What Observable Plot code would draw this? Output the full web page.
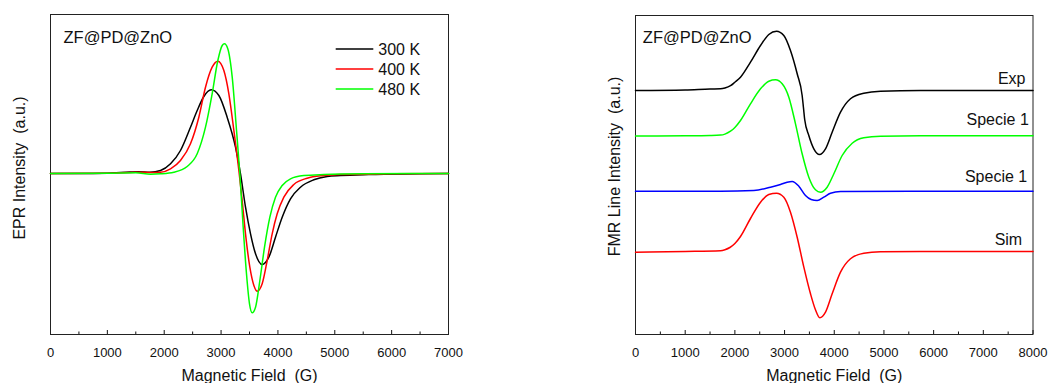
<!DOCTYPE html>
<html><head><meta charset="utf-8">
<script src="https://cdn.jsdelivr.net/npm/d3@7"></script>
<script src="https://cdn.jsdelivr.net/npm/@observablehq/plot@0.6"></script>
<style>
html,body{margin:0;padding:0;background:#fff;}
#wrap{position:relative;width:1048px;height:383px;overflow:hidden;font-family:"Liberation Sans",Arial,sans-serif;}
#left,#right{position:absolute;top:0;}
#left{left:0;} #right{left:524px;}
</style></head>
<body><div id="wrap"><div id="left"></div><div id="right"></div></div>
<script>
// ---------- Left panel: EPR spectra vs temperature ----------
const eprTemps = ["300 K", "400 K", "480 K"];
const eprColors = ["#000000", "#ff0000", "#00ff00"];
const field300 = [0,500,1000,1400,1550,1750,1935,2111,2286,2462,2580,2697,2826,2961,3107,3254,3342,3430,3518,3606,3723,3840,3957,4075,4221,4397,4631,4866,5100,5600,6500,7000];
const epr300   = [0,0,0.3,1.5,1.8,1.3,3,9.7,23,46.3,63,77,83.7,78,56.3,26.3,-0.3,-33.7,-60.3,-80.3,-91,-83.7,-63.7,-43.7,-25.3,-13.7,-6.3,-3,-2,-1,-0.3,0];
const field400 = [0,1000,1500,1750,1935,2111,2286,2462,2609,2726,2843,2943,3049,3137,3225,3313,3371,3430,3506,3577,3635,3723,3811,3899,3987,4104,4280,4514,4807,5100,6000,7000];
const epr400   = [0,0.3,1.3,1,1.3,4.7,13,29.7,56.3,86.3,106.3,112.3,103,79.7,43,3,-27,-60.3,-93.7,-112,-117.7,-110.3,-87,-60.3,-40.3,-23.7,-11,-4.7,-2,-1,-0.3,0];
const field480 = [0,1000,1500,1760,1935,2170,2404,2580,2726,2843,2943,3020,3060,3118,3196,3272,3330,3389,3447,3500,3547,3606,3682,3764,3858,3957,4075,4221,4455,4807,5500,7000];
const epr480   = [0,0.3,0.8,-0.7,-0.3,1.3,7,19.7,46.3,79.7,113,128,129.7,124.7,96.3,43,-0.3,-53.7,-100.3,-130.3,-139.3,-133.7,-107,-73.7,-43.7,-23.7,-12,-5.3,-2,-1,-0.3,0];
const eprXTicks = [0,1000,2000,3000,4000,5000,6000,7000];

// ---------- Right panel: FMR line fit (stacked traces) ----------
const fmrIds = ["exp", "sp1a", "sp1b", "sim"];
const fmrNames = ["Exp", "Specie 1", "Specie 1", "Sim"];
const fmrColors = ["#000000", "#00ff00", "#0000ff", "#ff0000"];
const fieldExp = [0,1000,1500,1711,1800,1912,2000,2113,2314,2516,2683,2838,2985,3119,3254,3354,3380,3405,3488,3589,3703,3824,3958,4126,4327,4595,4931,5736,7000,8000];
const fmrExp   = [244,244.5,245.5,245.7,246.5,248.8,252.3,257.3,272.3,289,300,303.3,299,284,260.7,239,227,215,199,185.7,180,185.7,202.3,222.3,235.7,241.3,243.3,244,244,244];
const fieldSp1a = [0,1000,1500,1711,1800,1912,2000,2113,2314,2516,2683,2818,2952,3086,3220,3354,3488,3622,3723,3857,3992,4159,4361,4595,4931,5736,8000];
const fmrSp1a   = [198.5,198.7,199,199.4,200.4,203.3,207,214,230.7,245.7,253.3,254.7,250.7,237.3,210.7,180.7,157.3,144.7,142.3,147.3,160.7,179,191.3,196.7,198.3,198.7,198.7];
const fieldSp1b = [0,1711,2382,2717,2918,3052,3153,3287,3421,3535,3656,3790,3924,4126,5736,8000];
const fmrSp1b   = [143.3,143.3,144,147.3,150,152.3,153,148.3,139,135,134,137.3,141.3,143,143.3,143.3];
const fieldSim = [0,1000,1711,1800,1900,2000,2113,2314,2516,2683,2838,2985,3119,3254,3388,3522,3622,3709,3824,3958,4126,4327,4595,4931,5736,8000];
const fmrSim   = [82.3,83,83.8,84.8,87,91,98,116,132.3,140,141.3,137.3,122.3,97.3,67.3,40.7,24.7,16.7,22.3,40.7,62.3,75.7,81.3,82.7,83,83];
const fmrXTicks = [0,1000,2000,3000,4000,5000,6000,7000,8000];

// ---------- styling (not data) ----------
const FONT = '"Liberation Sans", Arial, sans-serif';
const labelNudge = [[-7.5,-6.8],[-4.2,-11],[-5.8,-9.2],[-10.8,-6.2]];

const toRows = (fields, values, id) => fields.map((f, i) => ({field: f, value: values[i], series: id}));
const eprRows = [
  ...toRows(field300, epr300, eprTemps[0]),
  ...toRows(field400, epr400, eprTemps[1]),
  ...toRows(field480, epr480, eprTemps[2])
];
const fmrSeries = [[fieldExp, fmrExp],[fieldSp1a, fmrSp1a],[fieldSp1b, fmrSp1b],[fieldSim, fmrSim]];
const fmrRows = fmrSeries.flatMap(([f, v], i) => toRows(f, v, fmrIds[i]));

function tickMarks(ticks, innerH) {
  const minors = ticks.slice(0, -1).map(t => t + (ticks[1] - ticks[0]) / 2);
  return [
    Plot.ruleX(ticks, {x: d => d, insetTop: innerH - 4, stroke: "#111", strokeWidth: 1}),
    Plot.ruleX(minors, {x: d => d, insetTop: innerH - 2.5, stroke: "#111", strokeWidth: 1}),
    Plot.axisX({ticks, tickSize: 0, tickPadding: 13, tickFormat: d3.format("d"), label: null, fontSize: 13, fill: "#111"})
  ];
}

// Left plot
const LM = {l: 50, r: 76, t: 14, b: 49};
const leftPlot = Plot.plot({
  width: 524, height: 383,
  marginLeft: LM.l, marginRight: LM.r, marginTop: LM.t, marginBottom: LM.b,
  style: {fontFamily: FONT, fontSize: "13px", background: "transparent", color: "#111", overflow: "visible"},
  x: {domain: [0, 7000]},
  y: {domain: [-161, 159], axis: null},
  color: {domain: eprTemps, range: eprColors},
  marks: [
    ...tickMarks(eprXTicks, 383 - LM.t - LM.b),
    Plot.frame({stroke: "#222", strokeWidth: 1}),
    Plot.line(eprRows, {x: "field", y: "value", z: "series", stroke: "series", strokeWidth: 1.5, curve: "monotone-x"}),
    Plot.text(["Magnetic Field\u00a0\u00a0(G)"], {frameAnchor: "bottom", textAnchor: "middle", lineAnchor: "bottom", dy: 46, fontSize: 16, fill: "#111"}),
    Plot.text(["EPR Intensity\u00a0\u00a0(a.u.)"], {frameAnchor: "left", textAnchor: "middle", lineAnchor: "middle", rotate: -90, dx: -31, dy: -6.5, fontSize: 16, fill: "#111"}),
    Plot.text(["ZF@PD@ZnO"], {frameAnchor: "top-left", textAnchor: "start", lineAnchor: "bottom", dx: 13, dy: 28, fontSize: 16.5, fill: "#111"})
  ]
});
document.getElementById("left").appendChild(leftPlot);

// Legend (layout inside left frame, top-right)
{
  const svg = d3.select(leftPlot.tagName.toLowerCase() === "svg" ? leftPlot : leftPlot.querySelector("svg"));
  const g = svg.append("g").attr("font-family", FONT).attr("font-size", 16).attr("text-anchor", "start");
  const x0 = 448 - 112.3, x1 = 448 - 74.7;
  eprTemps.forEach((t, i) => {
    const y = 49 + i * 20;
    g.append("line").attr("x1", x0).attr("x2", x1).attr("y1", y).attr("y2", y)
      .attr("stroke", eprColors[i]).attr("stroke-width", 1.5);
    g.append("text").attr("x", x1 + 5).attr("y", y).attr("dy", "0.35em")
      .attr("text-anchor", "start").attr("fill", "#111").text(t);
  });
}

// Right plot
const RM = {l: 111, r: 15.5, t: 15, b: 49};
const rightPlot = Plot.plot({
  width: 524, height: 383,
  marginLeft: RM.l, marginRight: RM.r, marginTop: RM.t, marginBottom: RM.b,
  style: {fontFamily: FONT, fontSize: "13px", background: "transparent", color: "#111", overflow: "visible"},
  x: {domain: [0, 8000]},
  y: {domain: [0, 319], axis: null},
  color: {domain: fmrIds, range: fmrColors},
  marks: [
    ...tickMarks(fmrXTicks, 383 - RM.t - RM.b),
    Plot.frame({stroke: "#222", strokeWidth: 1}),
    Plot.line(fmrRows, {x: "field", y: "value", z: "series", stroke: "series", strokeWidth: 1.5, curve: "monotone-x"}),
    ...fmrSeries.map(([f, v], i) => Plot.text([{x: f[f.length - 1], y: v[v.length - 1], t: fmrNames[i]}],
      {x: "x", y: "y", text: "t", textAnchor: "end", lineAnchor: "bottom", dx: labelNudge[i][0], dy: labelNudge[i][1], fontSize: 16, fill: "#111"})),
    Plot.text(["Magnetic Field\u00a0\u00a0(G)"], {frameAnchor: "bottom", textAnchor: "middle", lineAnchor: "bottom", dy: 46, fontSize: 16, fill: "#111"}),
    Plot.text(["FMR Line Intensity\u00a0\u00a0(a.u.)"], {frameAnchor: "left", textAnchor: "middle", lineAnchor: "middle", rotate: -90, dx: -21, dy: -8.5, fontSize: 16, fill: "#111"}),
    Plot.text(["ZF@PD@ZnO"], {frameAnchor: "top-left", textAnchor: "start", lineAnchor: "bottom", dx: 7.3, dy: 27, fontSize: 16.5, fill: "#111"})
  ]
});
document.getElementById("right").appendChild(rightPlot);
</script>
</body></html>
